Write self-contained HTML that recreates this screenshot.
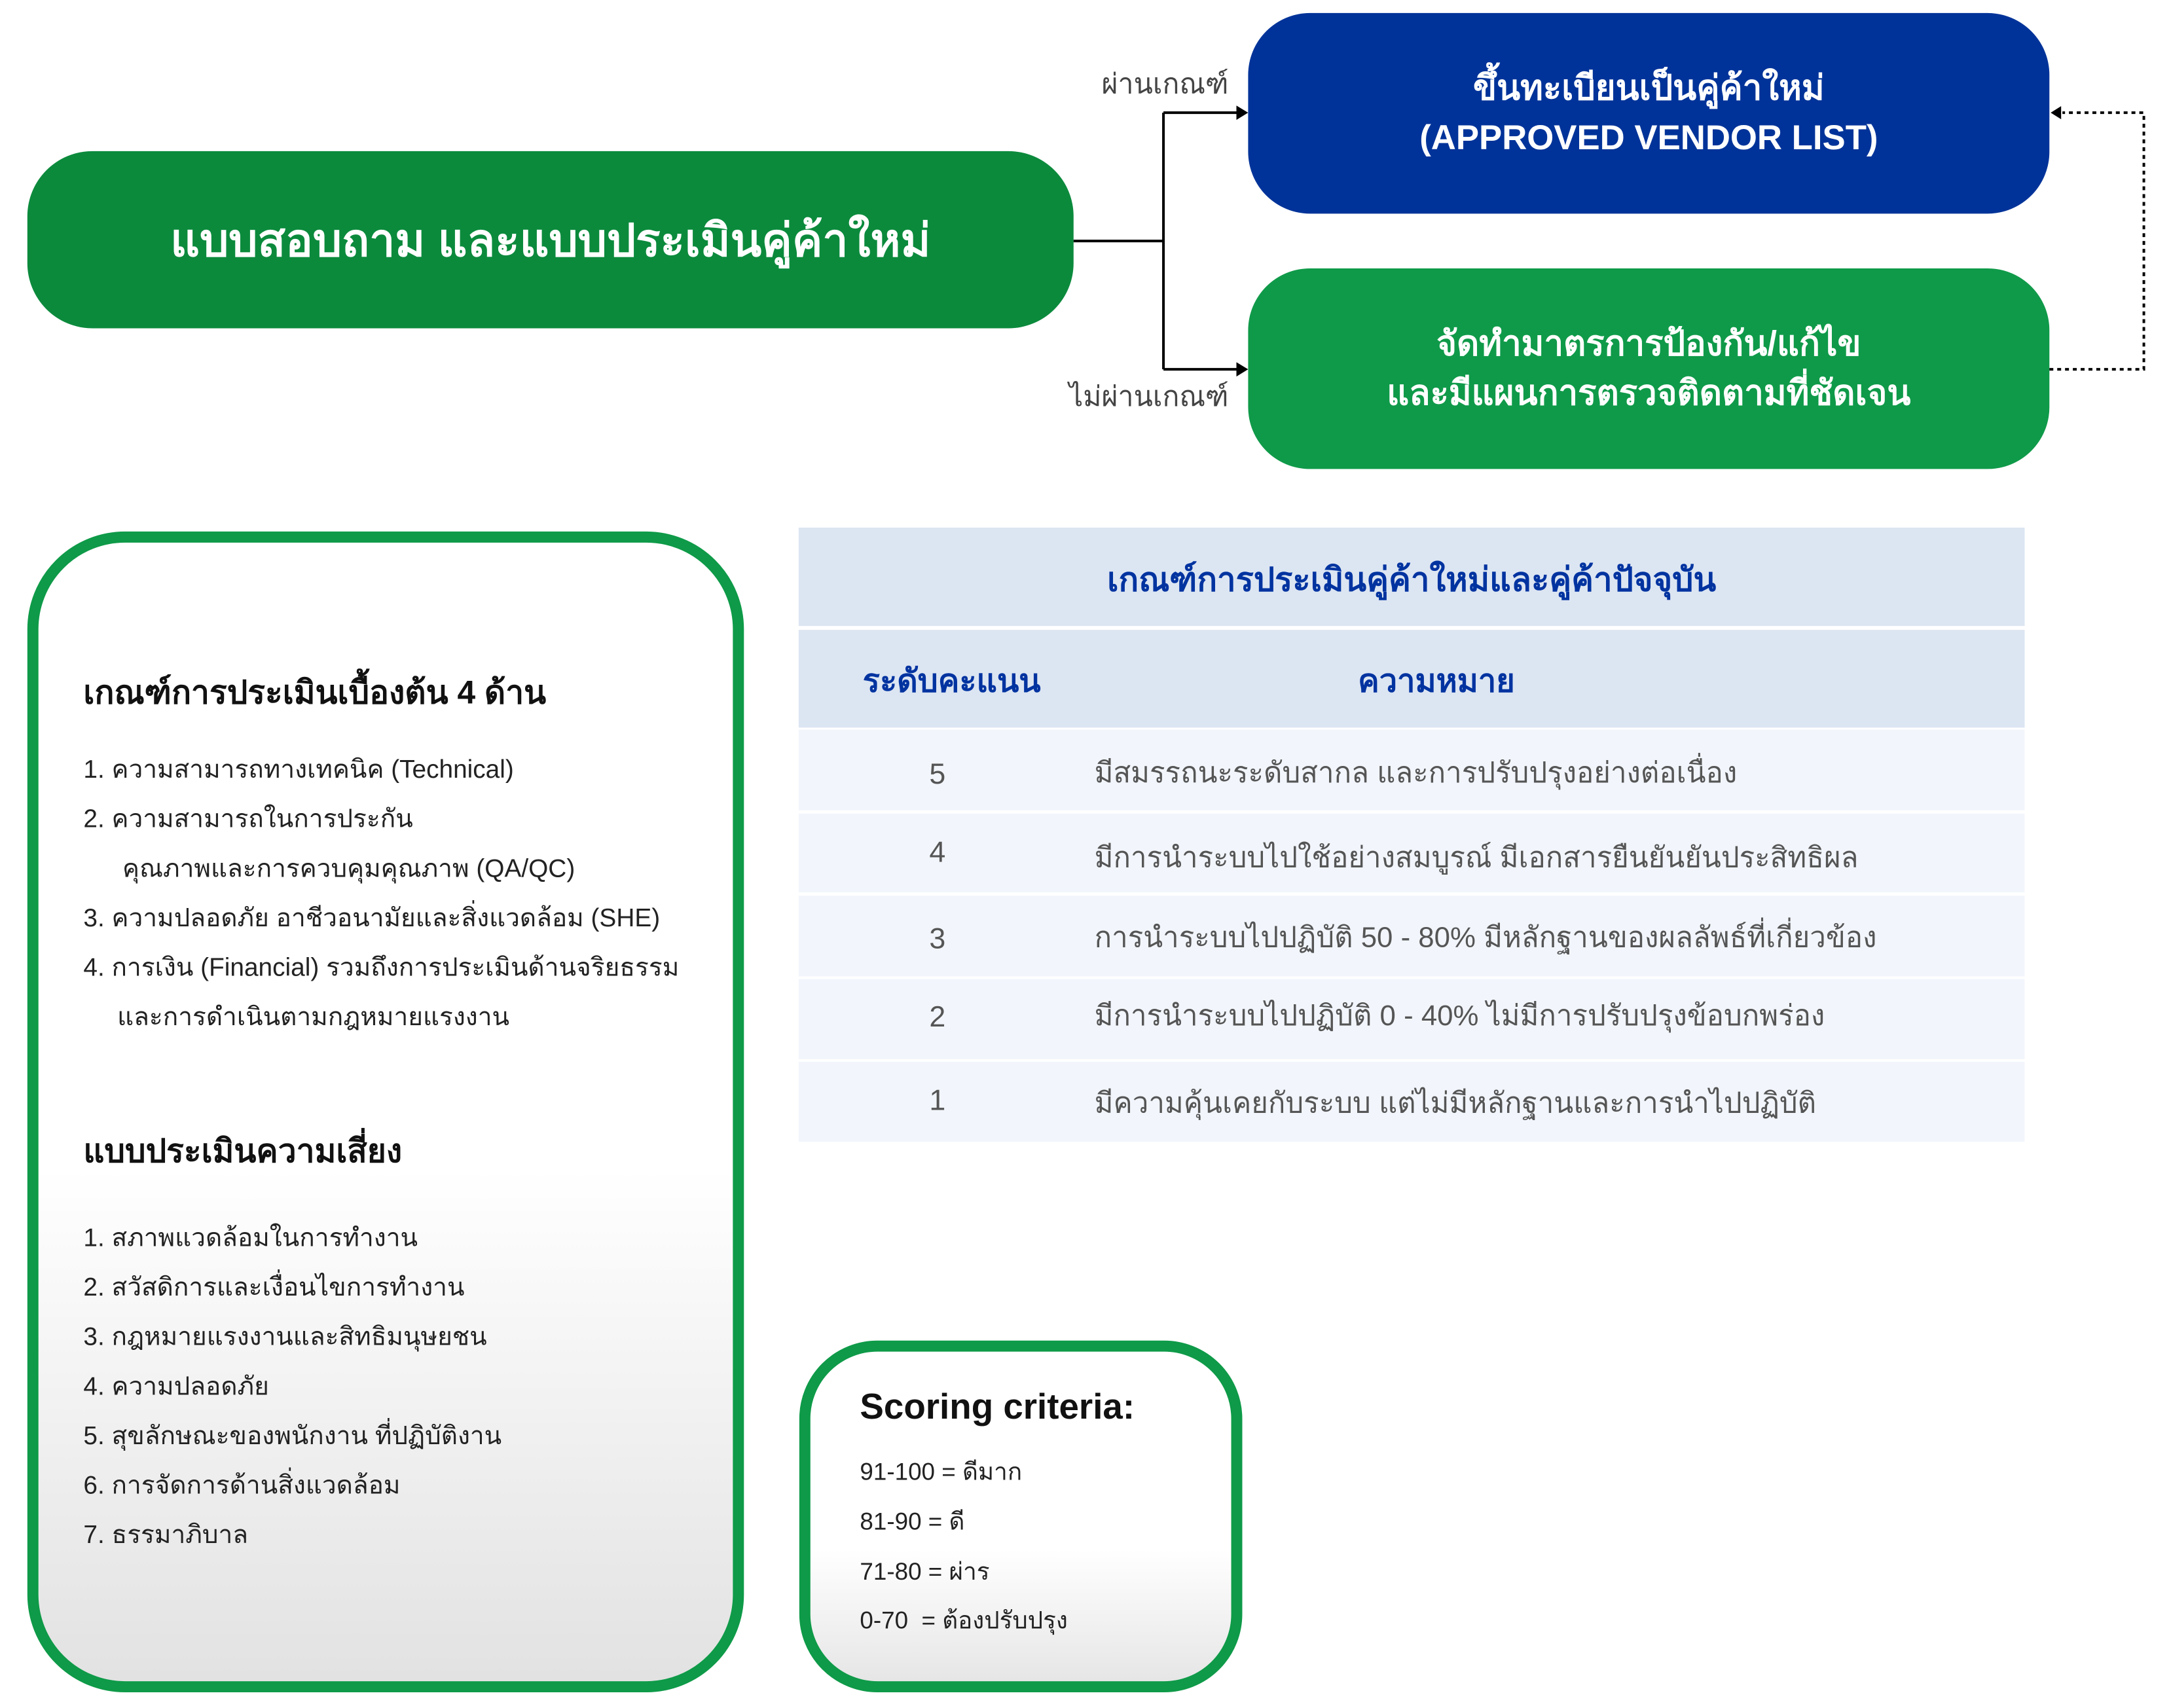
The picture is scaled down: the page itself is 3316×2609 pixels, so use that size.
<!DOCTYPE html>
<html><head><meta charset="utf-8">
<style>
html,body{margin:0;padding:0;background:#fff;}
body{width:3316px;height:2609px;position:relative;overflow:hidden;font-family:"Liberation Sans","DejaVu Sans",sans-serif;}
#w{position:absolute;left:0;top:0;width:3316px;height:2609px;transform:scale(0.995);transform-origin:0 0;}
.a{position:absolute;}
.box{position:absolute;display:flex;align-items:center;justify-content:center;text-align:center;color:#fff;font-weight:bold;}
.t{position:absolute;white-space:nowrap;line-height:1;}
</style></head><body><div id="w">
<div class="box" style="left:42px;top:232px;width:1606px;height:272px;border-radius:100px;background:#0b8a3c;font-size:70px;">แบบสอบถาม และแบบประเมินคู่ค้าใหม่</div>
<div class="box" style="left:1916px;top:20px;width:1230px;height:308px;border-radius:95px;background:#003399;font-size:53px;line-height:76px;">ขึ้นทะเบียนเป็นคู่ค้าใหม่<br>(APPROVED VENDOR LIST)</div>
<div class="box" style="left:1916px;top:412px;width:1230px;height:308px;border-radius:95px;background:#0f9a49;font-size:53px;line-height:76px;">จัดทำมาตรการป้องกัน/แก้ไข<br>และมีแผนการตรวจติดตามที่ชัดเจน</div>

<svg class="a" style="left:0;top:0" width="3316" height="800">
<path d="M1648 370 H1786 M1786 173 V567 M1786 173 H1900 M1786 567 H1900" stroke="#000" stroke-width="4" fill="none"/>
<polygon points="1916,173 1898,162 1898,184" fill="#000"/>
<polygon points="1916,567 1898,556 1898,578" fill="#000"/>
<path d="M3146 567 H3291 V173 H3166" stroke="#000" stroke-width="4" stroke-dasharray="6,6" fill="none"/>
<polygon points="3148,173 3164,163 3164,183" fill="#000"/>
</svg>
<div class="t" style="right:1430px;top:108px;font-size:43px;color:#444;">ผ่านเกณฑ์</div>
<div class="t" style="right:1430px;top:588px;font-size:43px;color:#444;">ไม่ผ่านเกณฑ์</div>

<div class="a" style="left:42px;top:816px;width:1066px;height:1748px;border:17px solid #0e9a48;border-radius:150px;background:linear-gradient(#fff 0%,#fff 55%,#e2e2e2 100%);"></div>
<div class="t" style="left:128px;top:1038px;font-size:50px;font-weight:bold;color:#111;">เกณฑ์การประเมินเบื้องต้น 4 ด้าน</div>
<div style="font-size:39px;color:#222;">
<div class="t" style="left:128px;top:1162px;">1. ความสามารถทางเทคนิค (Technical)</div>
<div class="t" style="left:128px;top:1238px;">2. ความสามารถในการประกัน</div>
<div class="t" style="left:188px;top:1314px;">คุณภาพและการควบคุมคุณภาพ (QA/QC)</div>
<div class="t" style="left:128px;top:1390px;">3. ความปลอดภัย อาชีวอนามัยและสิ่งแวดล้อม (SHE)</div>
<div class="t" style="left:128px;top:1466px;">4. การเงิน (Financial) รวมถึงการประเมินด้านจริยธรรม</div>
<div class="t" style="left:180px;top:1542px;">และการดำเนินตามกฎหมายแรงงาน</div>
</div>
<div class="t" style="left:128px;top:1742px;font-size:50px;font-weight:bold;color:#111;">แบบประเมินความเสี่ยง</div>
<div style="font-size:39px;color:#222;">
<div class="t" style="left:128px;top:1881px;">1. สภาพแวดล้อมในการทำงาน</div>
<div class="t" style="left:128px;top:1957px;">2. สวัสดิการและเงื่อนไขการทำงาน</div>
<div class="t" style="left:128px;top:2033px;">3. กฎหมายแรงงานและสิทธิมนุษยชน</div>
<div class="t" style="left:128px;top:2109px;">4. ความปลอดภัย</div>
<div class="t" style="left:128px;top:2185px;">5. สุขลักษณะของพนักงาน ที่ปฏิบัติงาน</div>
<div class="t" style="left:128px;top:2261px;">6. การจัดการด้านสิ่งแวดล้อม</div>
<div class="t" style="left:128px;top:2337px;">7. ธรรมาภิบาล</div>
</div>

<div class="a" style="left:1226px;top:810px;width:1882px;height:151px;background:#dce5f2;"></div>
<div class="a" style="left:1226px;top:967px;width:1882px;height:150px;background:#dce5f2;"></div>
<div class="a" style="left:1226px;top:1120px;width:1882px;height:124px;background:#f2f6fc;"></div>
<div class="a" style="left:1226px;top:1249px;width:1882px;height:121px;background:#f2f6fc;"></div>
<div class="a" style="left:1226px;top:1375px;width:1882px;height:124px;background:#f2f6fc;"></div>
<div class="a" style="left:1226px;top:1503px;width:1882px;height:123px;background:#f2f6fc;"></div>
<div class="a" style="left:1226px;top:1630px;width:1882px;height:123px;background:#f2f6fc;"></div>
<div class="t" style="left:1226px;width:1882px;text-align:center;top:864px;font-size:51px;font-weight:bold;color:#0033a0;">เกณฑ์การประเมินคู่ค้าใหม่และคู่ค้าปัจจุบัน</div>
<div class="t" style="left:1261px;width:400px;text-align:center;top:1022px;font-size:49px;font-weight:bold;color:#0033a0;">ระดับคะแนน</div>
<div class="t" style="left:1905px;width:600px;text-align:center;top:1022px;font-size:49px;font-weight:bold;color:#0033a0;">ความหมาย</div>
<div style="font-size:45px;color:#555;">
<div class="t" style="left:1389px;width:100px;text-align:center;top:1165px;">5</div>
<div class="t" style="left:1389px;width:100px;text-align:center;top:1285px;">4</div>
<div class="t" style="left:1389px;width:100px;text-align:center;top:1418px;">3</div>
<div class="t" style="left:1389px;width:100px;text-align:center;top:1538px;">2</div>
<div class="t" style="left:1389px;width:100px;text-align:center;top:1666px;">1</div>
</div>
<div style="font-size:44px;color:#555;">
<div class="t" style="left:1680px;top:1165px;">มีสมรรถนะระดับสากล และการปรับปรุงอย่างต่อเนื่อง</div>
<div class="t" style="left:1680px;top:1295px;">มีการนำระบบไปใช้อย่างสมบูรณ์ มีเอกสารยืนยันยันประสิทธิผล</div>
<div class="t" style="left:1680px;top:1418px;">การนำระบบไปปฏิบัติ 50 - 80% มีหลักฐานของผลลัพธ์ที่เกี่ยวข้อง</div>
<div class="t" style="left:1680px;top:1538px;">มีการนำระบบไปปฏิบัติ 0 - 40% ไม่มีการปรับปรุงข้อบกพร่อง</div>
<div class="t" style="left:1680px;top:1672px;">มีความคุ้นเคยกับระบบ แต่ไม่มีหลักฐานและการนำไปปฏิบัติ</div>
</div>

<div class="a" style="left:1227px;top:2058px;width:646px;height:506px;border:17px solid #0e9a48;border-radius:120px;background:linear-gradient(#fff 0%,#fff 60%,#e6e6e6 100%);"></div>
<div class="t" style="left:1320px;top:2132px;font-size:55px;font-weight:bold;color:#111;">Scoring criteria:</div>
<div style="font-size:37px;color:#222;">
<div class="t" style="left:1320px;top:2241px;">91-100 = ดีมาก</div>
<div class="t" style="left:1320px;top:2317px;">81-90 = ดี</div>
<div class="t" style="left:1320px;top:2394px;">71-80 = ผ่าร</div>
<div class="t" style="left:1320px;top:2469px;">0-70 &nbsp;= ต้องปรับปรุง</div>
</div>
</div></body></html>
